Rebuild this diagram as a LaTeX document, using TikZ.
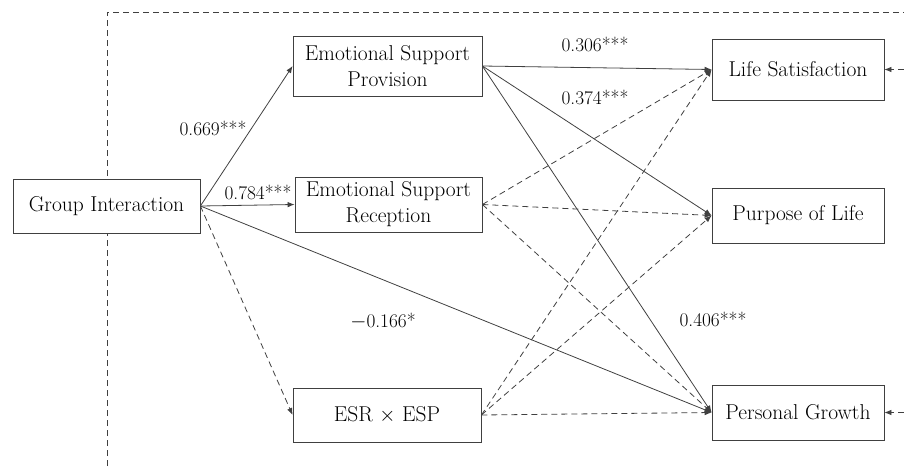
\documentclass[tikz,border=0pt]{standalone}
\usetikzlibrary{arrows.meta}
\begin{document}
\begin{tikzpicture}[x=1pt,y=-1pt,
  box/.style={draw=black!75,line width=0.8pt,fill=white,inner sep=0pt,align=center,
    font=\fontsize{21.5}{26}\selectfont,minimum width=#1},
  box/.default=172pt,
  lbl/.style={font=\fontsize{19.3}{22}\selectfont,inner sep=0pt},
  path/.style={draw=black!75,line width=0.8pt,-{Latex[length=7pt,width=5.5pt]}},
  ns/.style={path,dash pattern=on 6pt off 4pt},
  frame/.style={draw=black!75,line width=0.8pt,dash pattern=on 6pt off 4pt}]
\useasboundingbox (0,0) rectangle (904,466);
% frame
\coordinate (ftl) at (107,12);
\coordinate (ftr) at (904,12);
\coordinate (fbl) at (107,466);
\draw[frame] (fbl) -- (ftl) -- (ftr);
% nodes
\node[box=187pt,minimum height=54pt] (gi) at (106.5,206) {Group Interaction};
\node[box=189pt,minimum height=60pt] (esp) at (387.5,66) {Emotional Support\\Provision};
\node[box=187pt,minimum height=55pt] (esr) at (388.5,204.5) {Emotional Support\\Reception};
\node[box=188pt,minimum height=54pt] (int) at (387,415) {ESR $\times$ ESP};
\node[box,minimum height=61pt] (ls) at (798,69.5) {Life Satisfaction};
\node[box,minimum height=55pt] (pol) at (798,215.5) {Purpose of Life};
\node[box,minimum height=55pt] (pg) at (798,412.5) {Personal Growth};
% error terms
\coordinate (els) at (904,69.5);
\coordinate (epg) at (904,412.5);
\draw[ns] (els) -- (ls.east);
\draw[ns] (epg) -- (pg.east);
% paths
\draw[path] (gi.east) -- (esp.west);
\draw[path] (gi.east) -- (esr.west);
\draw[ns] (gi.east) -- (int.west);
\draw[path] (gi.east) -- (pg.west);
\draw[path] (esp.east) -- (ls.west);
\draw[path] (esp.east) -- (pol.west);
\draw[path] (esp.east) -- (pg.west);
\draw[ns] (esr.east) -- (ls.west);
\draw[ns] (esr.east) -- (pol.west);
\draw[ns] (esr.east) -- (pg.west);
\draw[ns] (int.east) -- (ls.west);
\draw[ns] (int.east) -- (pol.west);
\draw[ns] (int.east) -- (pg.west);
% labels
\node[lbl] (l1) at (213,128) {0.669***};
\node[lbl] (l2) at (258,192) {0.784***};
\node[lbl] (l3) at (595,44) {0.306***};
\node[lbl] (l4) at (595,97) {0.374***};
\node[lbl] (l5) at (383,321) {$-$0.166*};
\node[lbl] (l6) at (713,319) {0.406***};
\end{tikzpicture}
\end{document}
